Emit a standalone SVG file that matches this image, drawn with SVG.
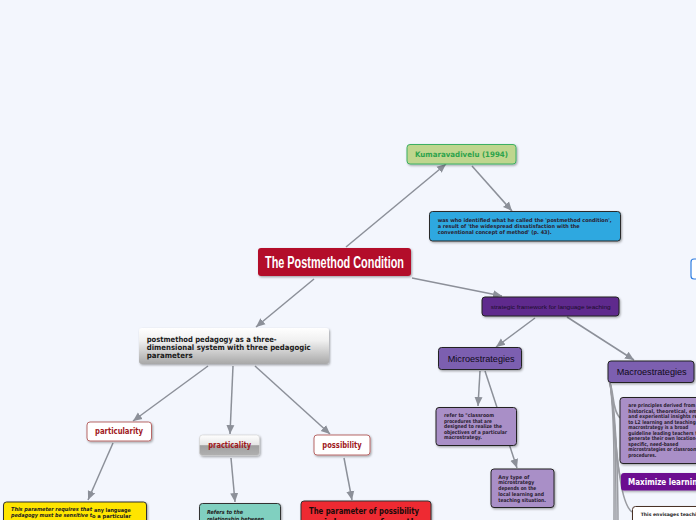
<svg xmlns="http://www.w3.org/2000/svg" width="696" height="520" viewBox="0 0 696 520">
<style>
.ln{fill:none;stroke:#8c9099;stroke-width:1.5}
.mc{fill:none;stroke:#9a9ca2;stroke-width:1.5}
.b{font-family:"DejaVu Sans","Liberation Sans",sans-serif;font-weight:bold}
.sm{font-size:5.2px;fill:#2a2030}
.lbl{font-size:8px;fill:#a0181c}
</style>
<defs>
<marker id="ar" markerUnits="userSpaceOnUse" markerWidth="10" markerHeight="10" viewBox="0 0 10 10" refX="9" refY="5" orient="auto">
<path d="M0,1 L9,5 L0,9 Z" fill="#8c9099"/>
</marker>
<filter id="sh" x="-10%" y="-10%" width="120%" height="140%">
<feDropShadow dx="1" dy="1.2" stdDeviation="0.8" flood-color="#000" flood-opacity="0.35"/>
</filter>
<linearGradient id="gg" x1="0" y1="0" x2="0" y2="1">
<stop offset="0" stop-color="#ffffff"/>
<stop offset="0.35" stop-color="#f0f0f0"/>
<stop offset="1" stop-color="#a8a8a8"/>
</linearGradient>
<linearGradient id="pg" x1="0" y1="0" x2="0" y2="1">
<stop offset="0" stop-color="#ffffff"/>
<stop offset="0.48" stop-color="#e6e6e6"/>
<stop offset="0.52" stop-color="#a0a0a0"/>
<stop offset="1" stop-color="#b0b0b0"/>
</linearGradient>
</defs>
<rect width="696" height="520" fill="#f3f6fd"/>

<g id="connectors">
<line class="ln" x1="346" y1="247" x2="446" y2="164" marker-end="url(#ar)"/>
<line class="ln" x1="472" y1="166" x2="512" y2="211" marker-end="url(#ar)"/>
<line class="ln" x1="314" y1="279" x2="256" y2="327" marker-end="url(#ar)"/>
<line class="ln" x1="412" y1="278" x2="502" y2="296" marker-end="url(#ar)"/>
<line class="ln" x1="535" y1="318" x2="496" y2="347" marker-end="url(#ar)"/>
<line class="ln" x1="567" y1="317" x2="634" y2="360" marker-end="url(#ar)"/>
<line class="ln" x1="480" y1="371" x2="478" y2="406" marker-end="url(#ar)"/>
<line class="ln" x1="485" y1="371" x2="517" y2="468" marker-end="url(#ar)"/>
<line class="ln" x1="208" y1="366" x2="133" y2="421" marker-end="url(#ar)"/>
<line class="ln" x1="233" y1="366" x2="230" y2="434" marker-end="url(#ar)"/>
<line class="ln" x1="255" y1="366" x2="330" y2="434" marker-end="url(#ar)"/>
<line class="ln" x1="113" y1="443" x2="88" y2="500" marker-end="url(#ar)"/>
<line class="ln" x1="231" y1="458" x2="235" y2="502" marker-end="url(#ar)"/>
<line class="ln" x1="344" y1="458" x2="352" y2="500" marker-end="url(#ar)"/>
<path class="mc" d="M610,383 C614,392 612,410 620,418"/>
<path class="mc" d="M610,383 C615,400 614,460 621,479"/>
<path class="mc" d="M610,383 C616,420 616,500 632,512"/>
<path class="mc" d="M610,383 C615,420 614,480 614,530"/>
<path class="mc" d="M610,383 C616,420 616,480 616,530"/>
<path class="mc" d="M610,383 C617,420 618,480 618,530"/>
</g>

<g id="root">
<rect x="258" y="248" width="153" height="28" rx="3" fill="#b30b2a" filter="url(#sh)"/>
<text x="334.5" y="267.5" text-anchor="middle" font-family="'Liberation Sans Narrow','Liberation Sans',sans-serif" font-weight="bold" font-size="16" fill="#fff" textLength="139" lengthAdjust="spacingAndGlyphs">The Postmethod Condition</text>
</g>

<g id="kumaravadivelu">
<rect x="407" y="144.5" width="109" height="19.5" rx="3" fill="#bfd68e" stroke="#3cb064" stroke-width="1" filter="url(#sh)"/>
<text class="b" x="415" y="157" font-size="7.5" fill="#2ea34c" textLength="93" lengthAdjust="spacingAndGlyphs">Kumaravadivelu (1994)</text>
</g>

<g id="identified">
<rect x="429.5" y="211.5" width="191" height="29.5" rx="3" fill="#2ea8e0" stroke="#2a2a2a" stroke-width="1" filter="url(#sh)"/>
<text class="b sm" x="437.7" y="221.5" textLength="174" lengthAdjust="spacingAndGlyphs">was who identified what he called the 'postmethod condition',</text>
<text class="b sm" x="437.7" y="227.8" textLength="142" lengthAdjust="spacingAndGlyphs">a result of 'the widespread dissatisfaction with the</text>
<text class="b sm" x="437.7" y="234.1" textLength="114" lengthAdjust="spacingAndGlyphs">conventional concept of method' (p. 43).</text>
</g>

<g id="pedagogy">
<rect x="139" y="328" width="190" height="36" rx="3" fill="url(#gg)" filter="url(#sh)"/>
<text class="b" x="146.7" y="341.5" font-size="7.6" fill="#1a1a1a" textLength="130" lengthAdjust="spacingAndGlyphs">postmethod pedagogy as a three-</text>
<text class="b" x="146.7" y="349.8" font-size="7.6" fill="#1a1a1a" textLength="164" lengthAdjust="spacingAndGlyphs">dimensional system with three pedagogic</text>
<text class="b" x="146.7" y="358.1" font-size="7.6" fill="#1a1a1a" textLength="46" lengthAdjust="spacingAndGlyphs">parameters</text>
</g>

<g id="strategic">
<rect x="482" y="297" width="137" height="19" rx="3" fill="#5e2a8d" stroke="#222" stroke-width="1" filter="url(#sh)"/>
<text x="490.7" y="308.5" font-family="'Liberation Sans',sans-serif" font-size="6.2" fill="#1a0d2a" textLength="120" lengthAdjust="spacingAndGlyphs">strategic framework for language teaching</text>
</g>

<g id="microestrategies">
<rect x="438.5" y="347.5" width="83" height="22" rx="3" fill="#7b5fb0" stroke="#222" stroke-width="1" filter="url(#sh)"/>
<text x="447.7" y="362" font-family="'Liberation Sans',sans-serif" font-size="9.5" fill="#100a18" textLength="67" lengthAdjust="spacingAndGlyphs">Microestrategies</text>
</g>

<g id="macroestrategies">
<rect x="608" y="361" width="86" height="21.5" rx="3" fill="#7b5fb0" stroke="#222" stroke-width="1" filter="url(#sh)"/>
<text x="616.7" y="374.5" font-family="'Liberation Sans',sans-serif" font-size="9.5" fill="#100a18" textLength="70" lengthAdjust="spacingAndGlyphs">Macroestrategies</text>
</g>

<g id="micro-refer">
<rect x="436" y="407.5" width="80.5" height="38" rx="3" fill="#a98fc7" stroke="#222" stroke-width="1" filter="url(#sh)"/>
<text class="b sm" x="444" y="417.2" textLength="50" lengthAdjust="spacingAndGlyphs">refer to "classroom</text>
<text class="b sm" x="444" y="422.7" textLength="48" lengthAdjust="spacingAndGlyphs">procedures that are</text>
<text class="b sm" x="444" y="428.2" textLength="58" lengthAdjust="spacingAndGlyphs">designed to realize the</text>
<text class="b sm" x="444" y="433.7" textLength="63" lengthAdjust="spacingAndGlyphs">objectives of a particular</text>
<text class="b sm" x="444" y="439.2" textLength="38" lengthAdjust="spacingAndGlyphs">macrostrategy.</text>
</g>

<g id="micro-any">
<rect x="491" y="469" width="63" height="38.5" rx="3" fill="#a98fc7" stroke="#222" stroke-width="1" filter="url(#sh)"/>
<text class="b sm" x="498.3" y="478.7" textLength="31" lengthAdjust="spacingAndGlyphs">Any type of</text>
<text class="b sm" x="498.3" y="484.4" textLength="36" lengthAdjust="spacingAndGlyphs">microstrategy</text>
<text class="b sm" x="498.3" y="490.1" textLength="38" lengthAdjust="spacingAndGlyphs">depends on the</text>
<text class="b sm" x="498.3" y="495.8" textLength="45.7" lengthAdjust="spacingAndGlyphs">local learning and</text>
<text class="b sm" x="498.3" y="501.5" textLength="47.7" lengthAdjust="spacingAndGlyphs">teaching situation.</text>
</g>

<g id="macro-principles">
<rect x="620" y="397.5" width="100" height="66" rx="3" fill="#a98fc7" stroke="#222" stroke-width="1" filter="url(#sh)"/>
<text class="b sm" x="628.3" y="407.2" textLength="67" lengthAdjust="spacingAndGlyphs">are principles derived from</text>
<text class="b sm" x="628.3" y="412.7" textLength="87" lengthAdjust="spacingAndGlyphs">historical, theoretical, empirical,</text>
<text class="b sm" x="628.3" y="418.2" textLength="82" lengthAdjust="spacingAndGlyphs">and experiential insights related</text>
<text class="b sm" x="628.3" y="423.7" textLength="74" lengthAdjust="spacingAndGlyphs">to L2 learning and teaching. A</text>
<text class="b sm" x="628.3" y="429.2" textLength="60" lengthAdjust="spacingAndGlyphs">macrostrategy is a broad</text>
<text class="b sm" x="628.3" y="434.7" textLength="72" lengthAdjust="spacingAndGlyphs">guideline leading teachers to</text>
<text class="b sm" x="628.3" y="440.2" textLength="69" lengthAdjust="spacingAndGlyphs">generate their own location-</text>
<text class="b sm" x="628.3" y="445.7" textLength="50" lengthAdjust="spacingAndGlyphs">specific, need-based</text>
<text class="b sm" x="628.3" y="451.2" textLength="69" lengthAdjust="spacingAndGlyphs">microstrategies or classroom</text>
<text class="b sm" x="628.3" y="456.7" textLength="28" lengthAdjust="spacingAndGlyphs">procedures.</text>
</g>

<g id="maximize">
<rect x="621" y="473" width="140" height="17.5" rx="3" fill="#6c0f90" filter="url(#sh)"/>
<text class="b" x="628" y="485" font-size="8.2" fill="#fff" textLength="132" lengthAdjust="spacingAndGlyphs">Maximize learning opportunities</text>
</g>

<g id="envisages">
<rect x="632.5" y="506.5" width="80" height="30" rx="3" fill="#fff" stroke="#4a3028" stroke-width="1" filter="url(#sh)"/>
<text class="b" x="640.7" y="516.3" font-size="4.6" fill="#222">This envisages teaching</text>
</g>

<g id="offscreen-node">
<rect x="691" y="259" width="20" height="20" rx="3" fill="#fff" stroke="#2f7de1" stroke-width="1.2"/>
</g>

<g id="particularity">
<rect x="87" y="422" width="64.5" height="19" rx="3" fill="#fff" stroke="#b86868" stroke-width="1" filter="url(#sh)"/>
<text class="b lbl" x="95" y="434.3" textLength="48" lengthAdjust="spacingAndGlyphs">particularity</text>
</g>

<g id="practicality">
<rect x="199.5" y="435" width="60" height="20.5" rx="3" fill="url(#pg)" stroke="#cfcfcf" stroke-width="0.6" filter="url(#sh)"/>
<text class="b lbl" x="208.3" y="447.5" textLength="42.7" lengthAdjust="spacingAndGlyphs">practicality</text>
</g>

<g id="possibility">
<rect x="314" y="435" width="56" height="20" rx="3" fill="#fff" stroke="#b86868" stroke-width="1" filter="url(#sh)"/>
<text class="b lbl" x="322.3" y="447.8" textLength="39.4" lengthAdjust="spacingAndGlyphs">possibility</text>
</g>

<g id="particularity-text">
<rect x="3.5" y="502" width="143" height="40" rx="3" fill="#ffe500" stroke="#333" stroke-width="1" filter="url(#sh)"/>
<text class="b" font-size="5.4" fill="#222"><tspan x="11" y="510.8" font-style="italic" textLength="81" lengthAdjust="spacingAndGlyphs">This parameter requires that</tspan><tspan x="94" y="512" textLength="36.7" lengthAdjust="spacingAndGlyphs">any language</tspan></text>
<text class="b" font-size="5.4" fill="#222"><tspan x="11" y="516.6" font-style="italic" textLength="81" lengthAdjust="spacingAndGlyphs">pedagogy must be sensitive t</tspan><tspan x="92" y="517.8" textLength="39" lengthAdjust="spacingAndGlyphs">o a particular</tspan></text>
</g>

<g id="practicality-text">
<rect x="199.5" y="503.5" width="81" height="40" rx="3" fill="#80d0c0" stroke="#333" stroke-width="1" filter="url(#sh)"/>
<text class="b" x="207" y="514.3" font-size="5.6" font-style="italic" fill="#222" textLength="36" lengthAdjust="spacingAndGlyphs">Refers to the</text>
<text class="b" x="207" y="520.6" font-size="5.6" font-style="italic" fill="#222" textLength="57" lengthAdjust="spacingAndGlyphs">relationship between</text>
</g>

<g id="possibility-text">
<rect x="301" y="501" width="130" height="40" rx="3" fill="#ee2a33" stroke="#333" stroke-width="1" filter="url(#sh)"/>
<text class="b" x="309" y="514.3" font-size="8.8" fill="#1a0a0a" textLength="110" lengthAdjust="spacingAndGlyphs">The parameter of possibility</text>
<text class="b" x="309" y="524.5" font-size="8.8" fill="#1a0a0a">mainly comes from the</text>
</g>
</svg>
